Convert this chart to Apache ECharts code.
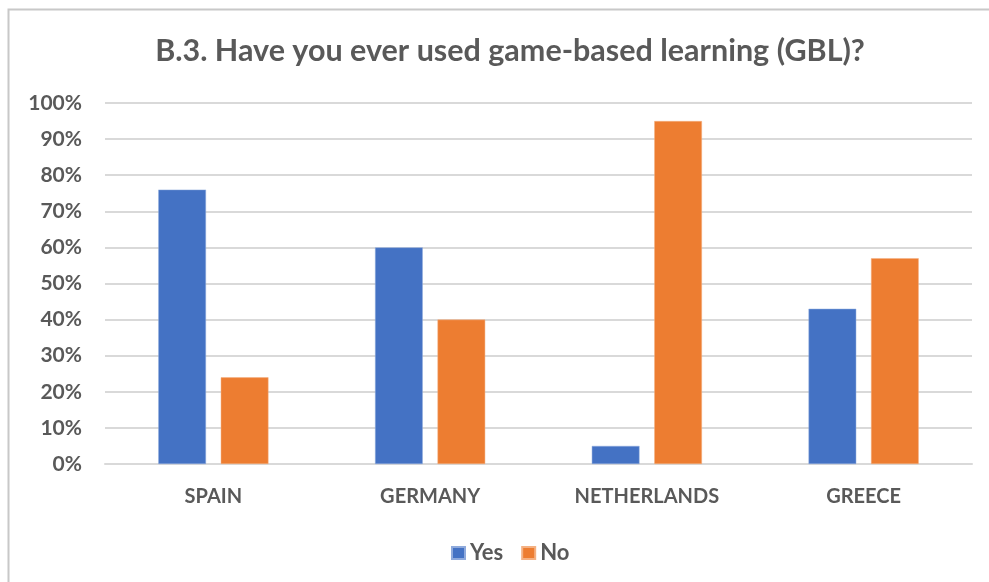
<!DOCTYPE html>
<html>
<head>
<meta charset="utf-8">
<script src="https://cdn.jsdelivr.net/npm/echarts@6/dist/echarts.min.js"></script>
<style>
  html, body { margin: 0; padding: 0; background: #fff; }
  #chart { width: 989px; height: 582px; }
</style>
</head>
<body>
<div id="chart"></div>
<script>
// Survey answers per country, in percent
const countries = ['SPAIN', 'GERMANY', 'NETHERLANDS', 'GREECE'];
const yesValues = [76, 60, 5, 43];
const noValues = [24, 40, 95, 57];
const seriesNames = ['Yes', 'No'];
const titleText = 'B.3. Have you ever used game-based learning (GBL)?';

const textColor = '#595959';
const fontFamily = 'Lato, "Open Sans", sans-serif';

const chart = echarts.init(document.getElementById('chart'), null, { renderer: 'canvas' });

chart.setOption({
  backgroundColor: '#ffffff',
  animation: false,
  textStyle: { fontFamily: fontFamily },
  title: {
    text: titleText,
    left: 505,
    textAlign: 'center',
    top: 31,
    textStyle: { fontFamily: fontFamily, fontSize: 30.5, fontWeight: 'bold', color: textColor }
  },
  legend: {
    data: seriesNames,
    left: 446,
    top: 537,
    itemWidth: 13,
    itemHeight: 12,
    itemGap: 18,
    icon: 'rect',
    textStyle: { fontFamily: fontFamily, fontSize: 22, fontWeight: 'bold', color: textColor }
  },
  grid: { left: 105, right: 17, top: 103, bottom: 118, containLabel: false },
  xAxis: {
    type: 'category',
    data: countries,
    axisLine: { show: true, lineStyle: { color: '#d9d9d9', width: 2 } },
    axisTick: { show: false },
    axisLabel: { margin: 23, fontFamily: fontFamily, fontSize: 20, fontWeight: 'bold', color: textColor }
  },
  yAxis: {
    type: 'value',
    min: 0,
    max: 100,
    interval: 10,
    axisLine: { show: false },
    axisTick: { show: false },
    splitLine: { lineStyle: { color: '#d9d9d9', width: 2 } },
    axisLabel: { margin: 23, fontFamily: fontFamily, fontSize: 21, fontWeight: 'bold', color: textColor, formatter: '{value}%' }
  },
  series: [
    {
      name: seriesNames[0],
      type: 'bar',
      data: yesValues,
      barWidth: '22%',
      barGap: '31%',
      itemStyle: { color: '#4472c4', borderColor: '#8faadc', borderWidth: 0.5 }
    },
    {
      name: seriesNames[1],
      type: 'bar',
      data: noValues,
      barWidth: '22%',
      barGap: '31%',
      itemStyle: { color: '#ed7d31', borderColor: '#f4b183', borderWidth: 0.5 }
    }
  ],
  graphic: [
    {
      type: 'polyline',
      silent: true,
      shape: { points: [[8.5, 582], [8.5, 9.5], [989, 9.5]] },
      style: { stroke: '#c8c8c8', lineWidth: 2, fill: null }
    }
  ]
});
</script>
</body>
</html>
